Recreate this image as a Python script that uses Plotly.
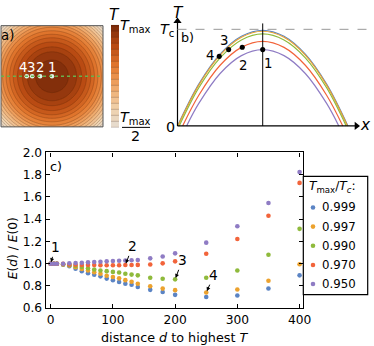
import numpy as np
import plotly.graph_objects as go

# reference canvas size in pixels (all positions below are read in these units)
W, H = 374, 346
# the figure itself is drawn a little larger: the page is captured with an 8px
# body margin and then scaled back to W x H
FW, FH = W + 8, H + 8
S = FW / W

# ---- panel c data: E(d)/E(0) against distance d ----
distance = [0, 5, 10, 20, 30, 40, 50, 60, 70, 80, 90, 100, 110, 120, 130, 140,
            160, 180, 200, 250, 300, 350, 400]
ratio_labels = ["0.999", "0.997", "0.990", "0.970", "0.950"]
colors = ["#5b84c4", "#eca22e", "#8fba3c", "#f2643b", "#8f7cc4"]

e_0999 = [1.0, 1.0, 0.999, 0.99, 0.977, 0.955, 0.933, 0.915, 0.90, 0.886, 0.866, 0.852,
          0.836, 0.82, 0.81, 0.79, 0.765, 0.745, 0.72, 0.70, 0.714, 0.777, 0.895]
e_0997 = [1.0, 1.0, 1.0, 0.993, 0.983, 0.968, 0.953, 0.939, 0.924, 0.909, 0.892, 0.88,
          0.868, 0.852, 0.838, 0.82, 0.797, 0.776, 0.762, 0.741, 0.768, 0.847, 0.995]
e_0990 = [1.0, 1.0, 1.0, 0.995, 0.989, 0.980, 0.971, 0.959, 0.948, 0.939, 0.933, 0.926,
          0.921, 0.909, 0.902, 0.895, 0.874, 0.865, 0.859, 0.874, 0.939, 1.080, 1.313]
e_0970 = [1.0, 1.0, 1.0, 0.998, 0.993, 0.991, 0.989, 0.989, 0.988, 0.987, 0.986, 0.986,
          0.986, 0.988, 0.988, 0.989, 0.993, 1.003, 1.021, 1.089, 1.222, 1.431, 1.726]
e_0950 = [1.0, 1.0, 1.0, 1.0, 1.004, 1.006, 1.009, 1.012, 1.015, 1.018, 1.021, 1.024,
          1.027, 1.028, 1.031, 1.033, 1.048, 1.065, 1.093, 1.189, 1.337, 1.546, 1.823]
series = [e_0999, e_0997, e_0990, e_0970, e_0950]

# ---- panel b data: sketch of T(x) profiles, Tc = 1 ----
blue_x = [0.0, 0.25, 0.5, 0.75, 1.0, 1.25, 1.5, 1.75, 2.0]
blue_T = [0.0, 0.433, 0.743, 0.928, 0.99, 0.928, 0.743, 0.433, 0.0]
orange_x = [0.005, 0.25, 0.5, 0.75, 1.0, 1.25, 1.5, 1.75, 1.995]
orange_T = [0.0, 0.423, 0.733, 0.918, 0.98, 0.918, 0.733, 0.423, 0.0]
green_x = [0.02, 0.25, 0.5, 0.75, 1.0, 1.25, 1.5, 1.75, 1.98]
green_T = [0.0, 0.395, 0.705, 0.890, 0.952, 0.890, 0.705, 0.395, 0.0]
red_x = [0.06, 0.25, 0.5, 0.75, 1.0, 1.25, 1.5, 1.75, 1.94]
red_T = [0.0, 0.318, 0.628, 0.813, 0.875, 0.813, 0.628, 0.318, 0.0]
purple_x = [0.107, 0.25, 0.5, 0.75, 1.0, 1.25, 1.5, 1.75, 1.893]
purple_T = [0.0, 0.233, 0.543, 0.728, 0.79, 0.728, 0.543, 0.233, 0.0]
curves = [(blue_x, blue_T), (orange_x, orange_T), (green_x, green_T),
          (red_x, red_T), (purple_x, purple_T)]

# marked positions 1..4 (same positions shown in panel a)
dot_names = ["1", "2", "3", "4"]
dot_x = [1.0, 0.76, 0.60, 0.49]
dot_T = [0.79, 0.815, 0.79, 0.72]

# ---- panel a data: radial temperature profile T/Tmax ----
radius_profile = [0.0, 0.25, 0.5, 0.75, 1.0, 1.25, 1.5]
temp_profile = [1.0, 0.985, 0.941, 0.867, 0.764, 0.631, 0.469]

heat_scale = [[0.0, "#e6ddd2"], [0.2, "#f0cfa8"], [0.4, "#efa868"],
              [0.6, "#e3782e"], [0.8, "#b84a12"], [1.0, "#7a2a0a"]]

FONT = "DejaVu Sans"


def px(x):
    return x / W


def py(y):
    return 1 - y / H


fig = go.Figure()

# panel a: contour map
grid = np.linspace(-1.03, 1.03, 207)
gx, gy = np.meshgrid(grid, grid)
field = np.interp(np.hypot(gx, gy), radius_profile, temp_profile)
fig.add_trace(go.Contour(
    x=grid, y=grid, z=field, xaxis="x3", yaxis="y3",
    colorscale=heat_scale, zmin=0.5, zmax=1.0,
    contours=dict(start=0.5, end=1.0, size=0.5 / 17, coloring="fill"),
    line=dict(width=0.6, color="rgba(70,30,10,0.4)"),
    colorbar=dict(x=px(111), xanchor="left", y=py(18), yanchor="top",
                  len=104 / H, lenmode="fraction", thickness=8 * S,
                  xpad=0, ypad=0, outlinewidth=0, showticklabels=False, ticks=""),
    hoverinfo="skip", showlegend=False))
fig.add_trace(go.Scatter(
    x=[d - 1 for d in dot_x], y=[0] * len(dot_x), xaxis="x3", yaxis="y3",
    mode="markers", marker=dict(size=4.5 * S, color="#dcf5e6"), showlegend=False))

# panel b: profiles
for (cx, cT), col in zip(curves, colors):
    fig.add_trace(go.Scatter(x=cx, y=cT, xaxis="x2", yaxis="y2", mode="lines",
                             line=dict(color=col, width=1.2, shape="spline"),
                             showlegend=False))
fig.add_trace(go.Scatter(x=dot_x, y=dot_T, xaxis="x2", yaxis="y2", mode="markers",
                         marker=dict(size=5 * S, color="black"), showlegend=False))
# arrow heads of the sketch axes
fig.add_trace(go.Scatter(x=[0, 2.1], y=[1.085, 0], xaxis="x2", yaxis="y2", mode="markers",
                         marker=dict(size=7 * S, color="black",
                                     symbol=["triangle-up", "triangle-right"]),
                         cliponaxis=False, showlegend=False, hoverinfo="skip"))

# panel c: scatter series
for vals, col, lab in zip(series, colors, ratio_labels):
    fig.add_trace(go.Scatter(x=distance, y=vals, mode="markers", name=lab,
                             marker=dict(size=4.5 * S, color=col), showlegend=False))

ann = []
shapes = []


def text(x, y, s, size=12, color="black", xanchor="center"):
    ann.append(dict(x=px(x), y=py(y), xref="paper", yref="paper", text=s,
                    showarrow=False, xanchor=xanchor, yanchor="middle",
                    font=dict(family=FONT, size=size * S, color=color)))


# panel a decorations
shapes.append(dict(type="rect", xref="x3 domain", yref="y3 domain", x0=0, x1=1, y0=0, y1=1,
                   line=dict(color="#555555", width=1)))
shapes.append(dict(type="line", xref="x3", yref="y3", x0=-1.03, x1=1.08, y0=0, y1=0,
                   line=dict(color="#6ab04c", width=1.5, dash="dot")))
text(8, 29, "a)", 13)
for name, lx in zip(dot_names, [52, 40, 30.5, 23]):
    text(lx, 62, name, 13, "white")

# colorbar labels
text(114, 8, "<i>T</i>", 15)
text(135, 19, "<i>T</i><sub>max</sub>", 14)
text(135, 113, "<i>T</i><sub>max</sub>", 14)
shapes.append(dict(type="line", xref="paper", yref="paper", x0=px(122), x1=px(150),
                   y0=py(122.5), y1=py(122.5), line=dict(color="black", width=1)))
text(135, 131, "2", 14)

# panel b decorations
shapes.append(dict(type="line", xref="x2", yref="y2", x0=0, x1=0, y0=0, y1=1.09,
                   line=dict(color="black", width=1.2)))
shapes.append(dict(type="line", xref="x2", yref="y2", x0=0, x1=2.11, y0=0, y1=0,
                   line=dict(color="black", width=1.2)))
shapes.append(dict(type="line", xref="x2", yref="y2", x0=0, x1=2.295, y0=1, y1=1,
                   line=dict(color="#999999", width=1, dash="dash")))
shapes.append(dict(type="line", xref="x2", yref="y2", x0=1, x1=1, y0=0, y1=1.061,
                   line=dict(color="black", width=1)))
text(178, 6, "<i>T</i>", 15)
text(167, 23, "<i>T</i><sub>c</sub>", 14)
text(170, 122, "0", 14)
text(365, 120, "<i>x</i>", 15)
text(187, 31, "b)", 12.5)
for name, lx, ly in zip(dot_names, [268, 243, 224.5, 210], [57, 59.5, 34, 49]):
    text(lx, ly, name, 13)

# panel c annotations with arrows
arrow_specs = [(e_0950, 0, "1", 4.3, -16), (e_0970, 13, "2", 7, -18.3),
               (e_0990, 18, "3", 7, -18.7), (e_0997, 19, "4", 7.6, -17)]
for vals, i, name, dx, dy in arrow_specs:
    ann.append(dict(x=distance[i], y=vals[i], xref="x", yref="y", text=name,
                    showarrow=True, ax=dx * S, ay=dy * S, arrowhead=2, arrowsize=0.8,
                    arrowwidth=1, standoff=1.5, arrowcolor="black",
                    font=dict(family=FONT, size=13.5 * S, color="black")))
text(56, 162, "c)", 12.5)
text(174.5, 336.5, "distance <i>d</i> to highest <i>T</i>", 12.5)
ann.append(dict(x=px(12.5), y=py(246), xref="paper", yref="paper",
                xanchor="center", yanchor="middle",
                text="<i>E</i>(<i>d</i>) / <i>E</i>(0)", textangle=-90, showarrow=False,
                font=dict(family=FONT, size=12 * S, color="black")))

# manual legend
shapes.append(dict(type="rect", xref="paper", yref="paper", x0=px(303.3), x1=px(367.7),
                   y0=py(292.7), y1=py(172.3), line=dict(color="black", width=1.2),
                   fillcolor="white", layer="above"))
text(307, 183, "<i>T</i><sub>max</sub>/<i>T<sub>c</sub></i>:", 12, xanchor="left")
for k, (lab, col) in enumerate(zip(ratio_labels, colors)):
    yy = 204 + 19.5 * k
    shapes.append(dict(type="circle", xref="paper", yref="paper", x0=px(310.7), x1=px(315.3),
                       y0=py(yy + 2.3), y1=py(yy - 2.3), line=dict(width=0),
                       fillcolor=col, layer="above"))
    text(320, yy, lab, 11.5, xanchor="left")

axis_c = dict(showline=True, linecolor="black", linewidth=1.2, mirror="ticks",
              ticks="inside", ticklen=4 * S, tickwidth=1, tickcolor="black",
              showgrid=False, zeroline=False,
              tickfont=dict(family=FONT, size=12 * S, color="black"))

fig.update_layout(
    width=FW, height=FH,
    margin=dict(l=0, r=0, t=0, b=0),
    paper_bgcolor="white", plot_bgcolor="white",
    font=dict(family=FONT, color="black"),
    showlegend=False,
    xaxis=dict(axis_c, domain=[px(45.7), px(303.3)], range=[-8, 406],
               tickvals=[0, 100, 200, 300, 400]),
    yaxis=dict(axis_c, domain=[py(306.5), py(148)], range=[0.6, 2.0],
               tickvals=[0.6, 0.8, 1.0, 1.2, 1.4, 1.6, 1.8, 2.0], tickformat=".1f"),
    xaxis2=dict(domain=[px(170), 1], range=[-0.088, 2.306], visible=False),
    yaxis2=dict(domain=[py(135), 1], range=[-0.142, 1.231], visible=False),
    xaxis3=dict(domain=[px(1), px(103)], range=[-1.03, 1.03], visible=False),
    yaxis3=dict(domain=[py(122), py(19)], range=[-1.03, 1.03], visible=False),
    annotations=ann,
    shapes=shapes,
)

# drop the default page margin once the plot is drawn
fig.write_html("out.html", config={"displayModeBar": False},
               post_script="document.body.style.margin='0px';"
                           "document.documentElement.style.overflow='hidden';")
